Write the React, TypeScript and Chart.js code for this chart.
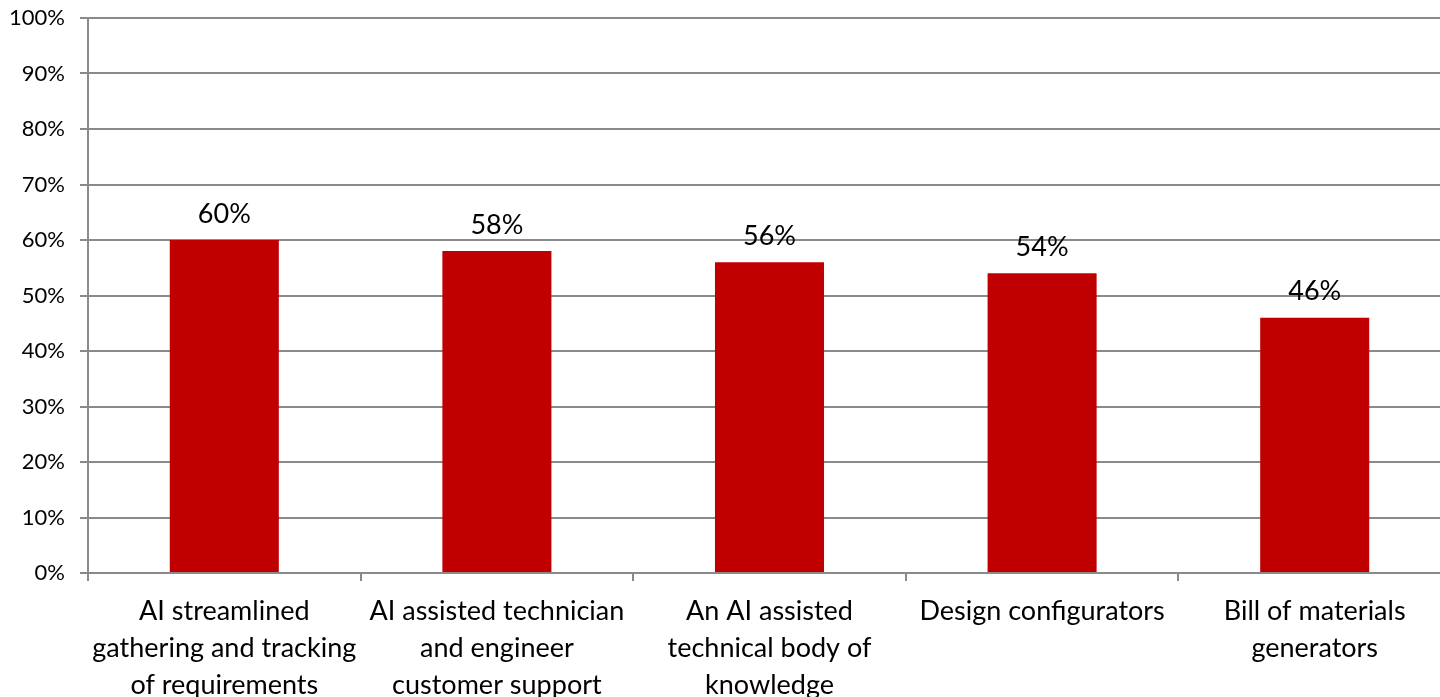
import React, { useEffect, useRef } from "react";
import { Chart, registerables } from "chart.js";

Chart.register(...registerables);

const categories: string[][] = [
  ["AI streamlined", "gathering and tracking", "of requirements"],
  ["AI assisted technician", "and engineer", "customer support"],
  ["An AI assisted", "technical body of", "knowledge"],
  ["Design configurators"],
  ["Bill of materials", "generators"],
];
const values: number[] = [60, 58, 56, 54, 46];
const yTicks: number[] = [0, 10, 20, 30, 40, 50, 60, 70, 80, 90, 100];

const FONT = "Lato, 'Open Sans', sans-serif";
const GRID = "#8a8a8a";

const dataLabels = {
  id: "dataLabels",
  afterDatasetsDraw(chart: any) {
    const ctx = chart.ctx;
    const meta = chart.getDatasetMeta(0);
    ctx.save();
    ctx.font = `27px ${FONT}`;
    ctx.fillStyle = "#000";
    ctx.textAlign = "center";
    ctx.textBaseline = "middle";
    meta.data.forEach((bar: any, i: number) => {
      ctx.fillText(values[i] + "%", bar.x, bar.y - 26);
    });
    ctx.restore();
  },
};

export default function App() {
  const ref = useRef<HTMLCanvasElement>(null);
  useEffect(() => {
    document.body.style.margin = "0";
    const chart = new Chart(ref.current!, {
      type: "bar",
      data: {
        labels: categories,
        datasets: [
          {
            data: values,
            backgroundColor: "#C00000",
            borderWidth: 0,
            barPercentage: 0.4,
            categoryPercentage: 1,
          },
        ],
      },
      options: {
        responsive: false,
        animation: false,
        layout: { padding: { top: 0, right: 9, left: 0, bottom: 0 } },
        plugins: { legend: { display: false }, tooltip: { enabled: false } },
        scales: {
          x: {
            afterFit: (s: any) => {
              s.height = 140;
            },
            grid: {
              drawOnChartArea: false,
              drawTicks: true,
              tickLength: 8,
              offset: true,
              color: GRID,
              lineWidth: 2,
            },
            border: { color: GRID, width: 2 },
            ticks: {
              font: { family: FONT, size: 27, lineHeight: 1.37 },
              color: "#000",
              maxRotation: 0,
              minRotation: 0,
              autoSkip: false,
              padding: 12,
            },
          },
          y: {
            min: 0,
            max: 100,
            afterFit: (s: any) => {
              s.width = 88;
              s.paddingTop = 18;
            },
            afterBuildTicks: (s: any) => {
              s.ticks = yTicks.map((v) => ({ value: v }));
            },
            grid: { color: GRID, lineWidth: 2, tickLength: 8 },
            border: { color: GRID, width: 2 },
            ticks: {
              font: { family: FONT, size: 22 },
              color: "#000",
              padding: 15,
              callback: (v: any) => v + "%",
            },
          },
        },
      },
      plugins: [dataLabels],
    });
    return () => chart.destroy();
  }, []);
  return (
    <div style={{ width: 1440, height: 697, overflow: "hidden", position: "relative" }}>
      <canvas ref={ref} width={1460} height={713} style={{ display: "block" }} />
    </div>
  );
}
